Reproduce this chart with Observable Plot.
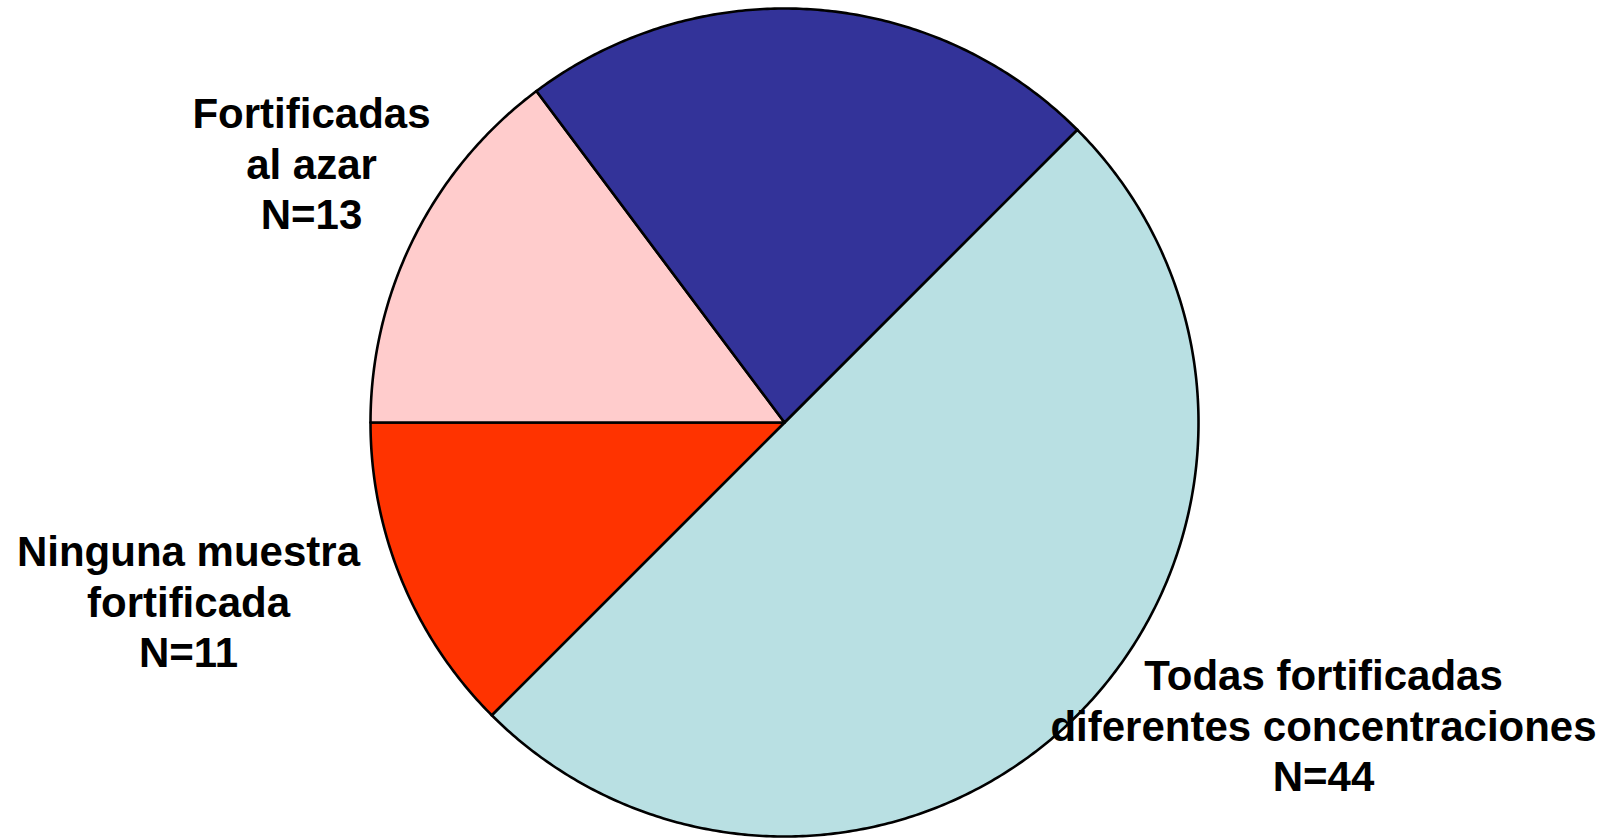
<!DOCTYPE html>
<html>
<head>
<meta charset="utf-8">
<script src="https://cdn.jsdelivr.net/npm/d3@7"></script>
<script src="https://cdn.jsdelivr.net/npm/@observablehq/plot@0.6"></script>
<style>
  html, body { margin: 0; padding: 0; background: #ffffff; }
  #chart { width: 1614px; height: 839px; }
</style>
</head>
<body>
<div id="chart"></div>
<script>
// ---- Data ----
const categories = [
  "Todas fortificadas diferentes concentraciones",
  "Ninguna muestra fortificada",
  "Fortificadas al azar",
  "Sin etiqueta"
];
const counts = [44, 11, 13, 20];
const labelTexts = [
  "Todas fortificadas\ndiferentes concentraciones\nN=44",
  "Ninguna muestra\nfortificada\nN=11",
  "Fortificadas\nal azar\nN=13",
  ""
];
const colors = ["#B9E0E3", "#FF3300", "#FFCCCC", "#333399"];

// ---- Layout (not data) ----
const W = 1614, H = 839;
const cx = 784, cy = 422, R = 414;       // pixel centre / radius of the pie
const startAngle = 45;                     // degrees, clockwise from 12 o'clock
// label anchor positions in pixels (centre of middle line)
const labelPos = [[1323, 724], [188, 600], [311, 162], null];

// pixel -> unit coords for scale domains
const xDomain = [(0 - cx) / R, (W - cx) / R];
const yDomain = [(cy - H) / R, (cy - 0) / R];
const toUx = px => (px - cx) / R;
const toUy = py => (cy - py) / R;

// ---- Build slice outlines from the counts ----
const total = d3.sum(counts);
let acc = 0;
const slices = categories.map((c, i) => {
  const a0 = startAngle + acc / total * 360;
  acc += counts[i];
  const a1 = startAngle + acc / total * 360;
  const pts = [{x: 0, y: 0}];
  const n = Math.max(2, Math.ceil((a1 - a0) / 0.5));
  for (let k = 0; k <= n; k++) {
    const a = (a0 + (a1 - a0) * k / n) * Math.PI / 180;
    pts.push({x: Math.sin(a), y: Math.cos(a)});
  }
  pts.push({x: 0, y: 0});
  return {category: c, color: colors[i], pts};
});

const labels = labelTexts
  .map((t, i) => ({text: t, pos: labelPos[i]}))
  .filter(d => d.text && d.pos)
  .map(d => ({text: d.text, x: toUx(d.pos[0]), y: toUy(d.pos[1])}));

const marks = [
  ...slices.map(s => Plot.line(s.pts, {
    x: "x", y: "y",
    fill: s.color, stroke: "#000000", strokeWidth: 2.6,
    strokeLinejoin: "round", curve: "linear"
  })),
  Plot.text(labels, {
    x: "x", y: "y", text: "text",
    fontSize: 42, fontWeight: "bold", lineHeight: 1.2,
    lineAnchor: "middle", textAnchor: "middle", fill: "#000000",
    fontFamily: "'Liberation Sans', Arial, sans-serif"
  })
];

const chart = Plot.plot({
  width: W, height: H,
  margin: 0,
  x: {domain: xDomain, range: [0, W], axis: null},
  y: {domain: yDomain, range: [H, 0], axis: null},
  style: {background: "#ffffff", fontFamily: "'Liberation Sans', Arial, sans-serif", overflow: "visible"},
  marks
});
document.getElementById("chart").appendChild(chart);
</script>
</body>
</html>
